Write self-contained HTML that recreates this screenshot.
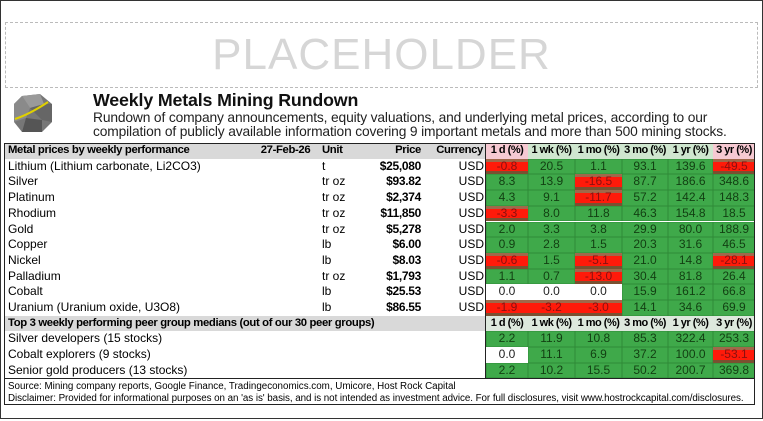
<!DOCTYPE html>
<html><head><meta charset="utf-8">
<style>
*{box-sizing:border-box;margin:0;padding:0}
body{width:763px;height:421px;background:#fff;position:relative;overflow:hidden;font-family:"Liberation Sans",Arial,sans-serif}
.abs{position:absolute}
.c{position:absolute;font-size:12px;line-height:15.7px;white-space:nowrap}
.h{font-weight:bold;font-size:11.3px;letter-spacing:-0.35px}
.pr{font-weight:bold;font-size:12px;letter-spacing:-0.3px}
.ph{font-weight:bold;font-size:11px;letter-spacing:-0.5px}
</style></head>
<body>
<div class="abs" style="left:0;top:0;width:763px;height:419px;border:1.5px solid #333"></div>
<div class="abs" style="left:5px;top:22px;width:753px;height:66px;border:1px dashed #bbb;text-align:center;font-size:44px;line-height:64px;color:#d6d6d6;letter-spacing:1px">PLACEHOLDER</div>
<svg class="abs" style="left:12px;top:92px" width="42" height="42" viewBox="0 0 42 42">
<polygon points="10,4 28,2 40,12 40,30 30,40 10,40 2,30 2,12" fill="#777"/>
<polygon points="10,4 28,2 32,12 18,16" fill="#9a9a9a"/>
<polygon points="18,16 32,12 40,12 40,30 30,28" fill="#666"/>
<polygon points="2,12 10,4 18,16 14,26 2,30" fill="#8a8a8a"/>
<polygon points="14,26 30,28 30,40 10,40" fill="#555"/>
<path d="M3,27 Q18,22 36,10" stroke="#e0d000" stroke-width="2" fill="none"/>
</svg>
<div class="abs" style="left:93px;top:90px;font-size:17.8px;font-weight:bold;color:#111;letter-spacing:-0.15px">Weekly Metals Mining Rundown</div>
<div class="abs" style="left:93px;top:111px;font-size:13.8px;line-height:14px;color:#222;letter-spacing:-0.15px;width:680px;white-space:nowrap">Rundown of company announcements, equity valuations, and underlying metal prices, according to our<br>compilation of publicly available information covering 9 important metals and more than 500 mining stocks.</div>
<div id="tbl"></div>
<script>
const metals=["Lithium (Lithium carbonate, Li2CO3)","Silver","Platinum","Rhodium","Gold","Copper","Nickel","Palladium","Cobalt","Uranium (Uranium oxide, U3O8)"];
const units=["t","tr oz","tr oz","tr oz","tr oz","lb","lb","tr oz","lb","lb"];
const prices=["$25,080","$93.82","$2,374","$11,850","$5,278","$6.00","$8.03","$1,793","$25.53","$86.55"];
const periods=["1 d (%)","1 wk (%)","1 mo (%)","3 mo (%)","1 yr (%)","3 yr (%)"];
const metalPerf=[
[-0.8,20.5,1.1,93.1,139.6,-49.5],
[8.3,13.9,-16.5,87.7,186.6,348.6],
[4.3,9.1,-11.7,57.2,142.4,148.3],
[-3.3,8.0,11.8,46.3,154.8,18.5],
[2.0,3.3,3.8,29.9,80.0,188.9],
[0.9,2.8,1.5,20.3,31.6,46.5],
[-0.6,1.5,-5.1,21.0,14.8,-28.1],
[1.1,0.7,-13.0,30.4,81.8,26.4],
[0.0,0.0,0.0,15.9,161.2,66.8],
[-1.9,-3.2,-3.0,14.1,34.6,69.9]];
const groups=["Silver developers (15 stocks)","Cobalt explorers (9 stocks)","Senior gold producers (13 stocks)"];
const groupPerf=[
[2.2,11.9,10.8,85.3,322.4,253.3],
[0.0,11.1,6.9,37.2,100.0,-53.1],
[2.2,10.2,15.5,50.2,200.7,369.8]];
const hdrSign=[-1,1,1,1,1,-1];

const T=document.getElementById('tbl');
const colX=[486,528,575,622,668,713,755];
const RH=15.7, top0=143;
function box(l,t,w,h,bg,extra){const d=document.createElement('div');d.className='abs';d.style.cssText=`left:${l}px;top:${t}px;width:${w}px;height:${h}px;background:${bg};${extra||''}`;T.appendChild(d);return d;}
function txt(s,l,t,w,align,cls,color){const d=document.createElement('div');d.className='c '+(cls||'');d.textContent=s;d.style.cssText+=`left:${l}px;top:${t}px;width:${w}px;text-align:${align};color:${color||'#000'}`;T.appendChild(d);return d;}
function cell(v,x,w,y){
  let bg=v>0?'#3fa94a':(v<0?'#ff1a0a':'#ffffff'),col=v>0?'#123f12':(v<0?'#8a1010':'#222');
  const b=box(x,y,w,RH,bg,v<0?'box-shadow:inset 0 3px 0 #a0684a,inset 0 -3px 0 #7a5030;':(v>0?'box-shadow:inset 0 0 0 0.5px #2f8a38;':''));
  
  
  txt(v.toFixed(1),x,y,w,'center','',col);
}
let h=box(4,top0,482,RH,'#d9d9d9');


txt("Metal prices by weekly performance",8,top0,240,'left','h');
txt("27-Feb-26",258,top0,55,'center','h');
txt("Unit",322,top0,40,'left','h');
txt("Price",370,top0,51,'right','h');
txt("Currency",425,top0,58,'right','h');
periods.forEach((p,j)=>{const b=box(colX[j],top0,colX[j+1]-colX[j],RH,hdrSign[j]<0?'#f6c9d2':'#cfe6cf');


txt(p,colX[j],top0,colX[j+1]-colX[j],'center','ph');});
metals.forEach((m,i)=>{const y=top0+RH*(i+1);
  const r=txt(m,8,y,280,'left');
  
  
  txt(units[i],322,y,40,'left');
  txt(prices[i],340,y,81,'right','pr');
  txt("USD",430,y,54,'right');
  metalPerf[i].forEach((v,j)=>cell(v,colX[j],colX[j+1]-colX[j],y));
});
const y2=top0+RH*11;
h=box(4,y2,482,RH,'#d9d9d9');


txt("Top 3 weekly performing peer group medians (out of our 30 peer groups)",8,y2,470,'left','h');
periods.forEach((p,j)=>{const b=box(colX[j],y2,colX[j+1]-colX[j],RH,'#dde8dd');


txt(p,colX[j],y2,colX[j+1]-colX[j],'center','ph');});
groups.forEach((g,i)=>{const y=y2+RH*(i+1);
  const r=txt(g,8,y,300,'left');
  
  
  groupPerf[i].forEach((v,j)=>cell(v,colX[j],colX[j+1]-colX[j],y));
});
const yb=y2+RH*4;
let fr=box(4,top0,751,yb-top0,'transparent','border:1.2px solid #222;');


let dv=box(485,top0,1.2,yb-top0,'#222');


let fb=box(4,yb,751,26,'transparent','border:1px solid #222;border-top:none;');


let s1=txt("Source: Mining company reports, Google Finance, Tradingeconomics.com, Umicore, Host Rock Capital",8,yb+1,740,'left');
s1.style.fontSize='9.8px';s1.style.lineHeight='13px';


let s2=txt("Disclaimer: Provided for informational purposes on an 'as is' basis, and is not intended as investment advice. For full disclosures, visit www.hostrockcapital.com/disclosures.",8,yb+14,745,'left');
s2.style.fontSize='9.8px';s2.style.lineHeight='12px';s2.style.letterSpacing='-0.05px';


</script>
</body></html>
